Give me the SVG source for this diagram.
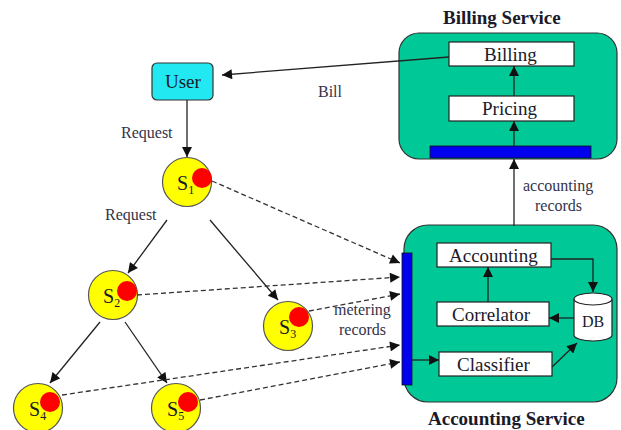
<svg xmlns="http://www.w3.org/2000/svg" width="621" height="430" viewBox="0 0 621 430">
<defs>
<marker id="ah" viewBox="0 0 10 10" refX="10" refY="5" markerWidth="11" markerHeight="10" markerUnits="userSpaceOnUse" orient="auto">
<path d="M0,0 L10,5 L0,10 z" fill="#111"/>
</marker>
</defs>
<rect width="621" height="430" fill="#fff"/>
<g id="billing-service">
<rect x="399" y="33" width="218" height="126" rx="20" fill="#00c896" stroke="#333" stroke-width="1.2"/>
<text font-family="Times New Roman" font-weight="bold" font-size="19" fill="#1a1a2a" x="443" y="24">Billing Service</text>
<rect x="430" y="146" width="161" height="12" fill="#0000ee" stroke="#111" stroke-width="0.8"/>
</g>
<g id="billing">
<rect x="449" y="42" width="125" height="24" fill="#fff" stroke="#222" stroke-width="1.2"/>
<text font-family="Times New Roman" font-size="19" fill="#1a1a2a" x="484" y="61">Billing</text>
</g>
<g id="pricing">
<rect x="449" y="96" width="125" height="25" fill="#fff" stroke="#222" stroke-width="1.2"/>
<text font-family="Times New Roman" font-size="19" fill="#1a1a2a" x="482" y="115">Pricing</text>
</g>

<g id="accounting-service">
<rect x="404" y="225" width="213" height="177" rx="24" fill="#00c896" stroke="#333" stroke-width="1.2"/>
<text font-family="Times New Roman" font-weight="bold" font-size="19" fill="#1a1a2a" x="428" y="425">Accounting Service</text>
<rect x="402" y="253" width="10" height="132" fill="#0000ee" stroke="#111" stroke-width="0.8"/>
</g>
<g id="accounting">
<rect x="437" y="243" width="114" height="24" fill="#fff" stroke="#222" stroke-width="1.2"/>
<text font-family="Times New Roman" font-size="19" fill="#1a1a2a" x="449" y="262">Accounting</text>
</g>
<g id="correlator">
<rect x="437" y="302" width="112" height="24" fill="#fff" stroke="#222" stroke-width="1.2"/>
<text font-family="Times New Roman" font-size="19" fill="#1a1a2a" x="452" y="321">Correlator</text>
</g>
<g id="classifier">
<rect x="439" y="352" width="113" height="24" fill="#fff" stroke="#222" stroke-width="1.2"/>
<text font-family="Times New Roman" font-size="19" fill="#1a1a2a" x="457" y="371">Classifier</text>
</g>
<g id="db">
<path d="M574,299 L574,335 A19,6 0 0 0 612,335 L612,299" fill="#fff" stroke="#222" stroke-width="1.2"/>
<ellipse cx="593" cy="299" rx="19" ry="6" fill="#fff" stroke="#222" stroke-width="1.2"/>
<text font-family="Times New Roman" font-size="16" fill="#1a1a2a" x="582" y="327">DB</text>
</g>

<g id="user">
<rect x="152" y="63" width="61" height="37" rx="5" fill="#22e8f2" stroke="#333" stroke-width="1.2"/>
<text font-family="Times New Roman" font-size="19" fill="#1a1a2a" x="165" y="88">User</text>
</g>

<g id="s1">
<circle cx="187" cy="182" r="24.5" fill="#ffff00" stroke="#555" stroke-width="1.2"/>
<text font-family="Times New Roman" font-size="20" fill="#1a1a2a" x="177" y="190">S<tspan font-size="12" dy="4">1</tspan></text>
<circle cx="202" cy="178" r="10" fill="#ff0000"/>
</g>
<g id="s2">
<circle cx="113" cy="295" r="24.5" fill="#ffff00" stroke="#555" stroke-width="1.2"/>
<text font-family="Times New Roman" font-size="20" fill="#1a1a2a" x="103" y="303">S<tspan font-size="12" dy="4">2</tspan></text>
<circle cx="127" cy="291" r="10" fill="#ff0000"/>
</g>
<g id="s3">
<circle cx="288" cy="326" r="24.5" fill="#ffff00" stroke="#555" stroke-width="1.2"/>
<text font-family="Times New Roman" font-size="20" fill="#1a1a2a" x="279" y="334">S<tspan font-size="12" dy="4">3</tspan></text>
<circle cx="299" cy="317" r="10" fill="#ff0000"/>
</g>
<g id="s4">
<circle cx="38" cy="408" r="24.5" fill="#ffff00" stroke="#555" stroke-width="1.2"/>
<text font-family="Times New Roman" font-size="20" fill="#1a1a2a" x="29" y="416">S<tspan font-size="12" dy="4">4</tspan></text>
<circle cx="50" cy="402" r="10" fill="#ff0000"/>
</g>
<g id="s5">
<circle cx="176" cy="408" r="24.5" fill="#ffff00" stroke="#555" stroke-width="1.2"/>
<text font-family="Times New Roman" font-size="20" fill="#1a1a2a" x="167" y="416">S<tspan font-size="12" dy="4">5</tspan></text>
<circle cx="188" cy="402" r="10" fill="#ff0000"/>
</g>

<g id="connectors" fill="none" stroke="#222" stroke-width="1.3" marker-end="url(#ah)">
<path d="M449,57 L222,75"/>
<path d="M187,100 L187,157"/>
<path d="M167,220 L128,273"/>
<path d="M210,220 L278,300"/>
<path d="M100,322 L50,383"/>
<path d="M125,322 L167,383"/>
<g stroke-dasharray="5,3" stroke="#333">
<path d="M212,181 L400,263"/>
<path d="M137,295 L400,277"/>
<path d="M309,311 L400,294"/>
<path d="M62,395 L400,345"/>
<path d="M200,400 L400,362"/>
</g>
<path d="M514,226 L514,159"/>
<path d="M514,146 L514,121"/>
<path d="M514,96 L514,66"/>
<path d="M488,302 L488,267"/>
<path d="M551,259 L593,259 L593,292"/>
<path d="M574,318 L549,318"/>
<path d="M552,367 L577,343"/>
<path d="M412,360 L439,360"/>
</g>
<g id="edge-labels">
<text font-family="Times New Roman" font-size="16" fill="#33334a" x="318" y="97">Bill</text>
<text font-family="Times New Roman" font-size="16" fill="#33334a" x="121" y="138">Request</text>
<text font-family="Times New Roman" font-size="16" fill="#33334a" x="105" y="220">Request</text>
<text font-family="Times New Roman" font-size="16" fill="#33334a" x="334" y="315">metering</text>
<text font-family="Times New Roman" font-size="16" fill="#33334a" x="339" y="335">records</text>
<text font-family="Times New Roman" font-size="16" fill="#33334a" x="523" y="191">accounting</text>
<text font-family="Times New Roman" font-size="16" fill="#33334a" x="535" y="211">records</text>
</g>
</svg>
